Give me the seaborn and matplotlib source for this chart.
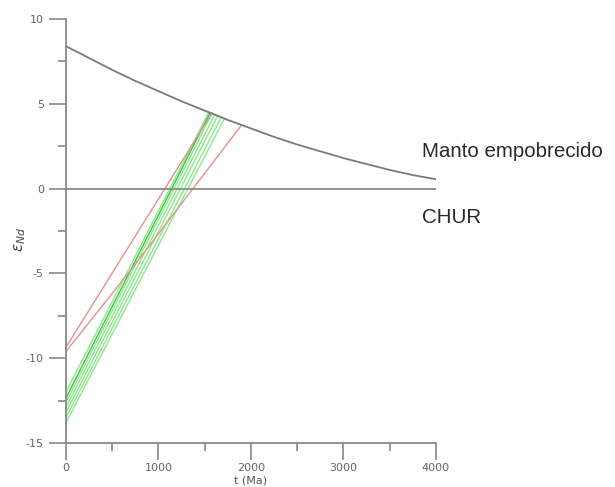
import matplotlib
matplotlib.use("Agg")
import matplotlib.pyplot as plt
import seaborn as sns
import pandas as pd
from matplotlib.ticker import MultipleLocator

# Depleted mantle curve
dm_t = [0, 250, 500, 750, 1000, 1250, 1500, 1750, 2000, 2250, 2500, 2750, 3000, 3250, 3500, 3750, 4000]
dm_eps = [8.4, 7.7, 7.0, 6.35, 5.75, 5.15, 4.6, 4.05, 3.55, 3.05, 2.6, 2.2, 1.8, 1.45, 1.1, 0.8, 0.55]

# CHUR
chur_t = [0, 4000]
chur_eps = [0, 0]

# Red model lines (t, eps)
red1_t = [0, 1580]
red1_eps = [-9.35, 4.47]
red2_t = [0, 700, 1900]
red2_eps = [-9.6, -4.8, 3.76]

# Green model lines: start eps at t=0, end t and eps on DM
green_start = [-12.0, -12.35, -12.6, -12.9, -13.2, -13.5, -13.8]
green_end_t = [1545, 1560, 1580, 1610, 1640, 1680, 1715]
green_end_eps = [4.52, 4.5, 4.45, 4.38, 4.3, 4.22, 4.15]
green_dark = 1  # index of the darker green line

rows = []
for t, e in zip(dm_t, dm_eps):
    rows.append(("DM", t, e))
for t, e in zip(chur_t, chur_eps):
    rows.append(("CHUR", t, e))
for t, e in zip(red1_t, red1_eps):
    rows.append(("R1", t, e))
for t, e in zip(red2_t, red2_eps):
    rows.append(("R2", t, e))
for i, (s, et, ee) in enumerate(zip(green_start, green_end_t, green_end_eps)):
    rows.append((f"G{i}", 0, s))
    rows.append((f"G{i}", et, ee))
df = pd.DataFrame(rows, columns=["line", "t", "eps"])

palette = {"DM": "#7a7a7a", "CHUR": "#8a8a8a", "R1": "#e39090", "R2": "#e39090"}
for i in range(len(green_start)):
    palette[f"G{i}"] = "#3cc23c" if i == green_dark else "#8aea8a"

sns.set_style("white")
plt.rcParams["axes.unicode_minus"] = False
fig = plt.figure(figsize=(6.15, 4.87), dpi=100)
ax = fig.add_axes([0.1073, 0.0903, 0.6016, 0.8706])

order = [f"G{i}" for i in range(len(green_start)) if i != green_dark] + [f"G{green_dark}", "R1", "R2", "CHUR", "DM"]
for name in order:
    sub = df[df["line"] == name]
    lw = 1.3 if name in ("DM", "CHUR") else 1.0
    sns.lineplot(data=sub, x="t", y="eps", color=palette[name], lw=lw,
                 sort=False, estimator=None, ax=ax, legend=False)

ax.set_xlim(0, 4000)
ax.set_ylim(-15, 10)
ax.xaxis.set_major_locator(MultipleLocator(1000))
ax.xaxis.set_minor_locator(MultipleLocator(500))
ax.yaxis.set_major_locator(MultipleLocator(5))
ax.yaxis.set_minor_locator(MultipleLocator(2.5))

for s in ["top", "right"]:
    ax.spines[s].set_visible(False)
for s in ["left", "bottom"]:
    ax.spines[s].set_color("#888888")
    ax.spines[s].set_linewidth(1.3)

ax.tick_params(axis="both", which="major", length=12, width=1.2, color="#888888",
               labelsize=8, labelcolor="#666666", direction="out", left=True, bottom=True)
ax.tick_params(axis="both", which="minor", length=6, width=1.2, color="#888888",
               direction="out", left=True, bottom=True)
ax.tick_params(axis="x", which="major", pad=2.5)
ax.tick_params(axis="y", which="major", pad=4)

ax.set_xlabel("t (Ma)", fontsize=8, color="#555555")
ax.xaxis.set_label_coords(0.5, -0.076)
ax.set_ylabel(r"$\epsilon_{Nd}$", fontsize=11, color="#444444")
ax.yaxis.set_label_coords(-0.103, 0.479)

ax.text(3850, 2.2, "Manto empobrecido", fontsize=14.8, color="#2a2a2a",
        family="Liberation Sans", va="center", ha="left", clip_on=False)
ax.text(3850, -1.7, "CHUR", fontsize=14.8, color="#2a2a2a",
        family="Liberation Sans", va="center", ha="left", clip_on=False)

fig.savefig("out.png", dpi=100)
